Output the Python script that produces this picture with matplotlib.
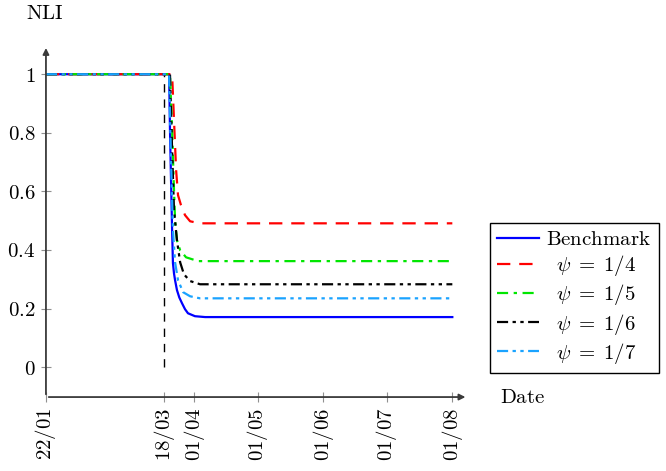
import numpy as np
import matplotlib.pyplot as plt

plt.rcParams['mathtext.fontset'] = 'cm'
plt.rcParams['font.family'] = 'DejaVu Serif'

# days since 22/01 and NLI values
bench_day = [0, 58.2, 58.6, 59.1, 59.6, 60.0, 60.5, 61.0, 61.9, 63.0, 64.3, 65.7, 67.1, 70.4, 75.2, 192]
bench_nli = [1.0, 1.0, 0.809, 0.638, 0.468, 0.355, 0.32, 0.297, 0.263, 0.238, 0.218, 0.198, 0.184, 0.174, 0.171, 0.171]

psi4_day = [0, 59.6, 60.5, 61.5, 62.4, 63.8, 65.7, 68.1, 72.8, 192]
psi4_nli = [1.0, 1.0, 0.843, 0.672, 0.587, 0.553, 0.519, 0.498, 0.491, 0.491]

psi5_day = [0, 58.6, 59.6, 60.5, 61.0, 61.9, 63.4, 66.2, 71.9, 192]
psi5_nli = [1.0, 1.0, 0.809, 0.604, 0.502, 0.433, 0.399, 0.375, 0.362, 0.362]

psi6_day = [0, 58.6, 59.6, 60.5, 61.9, 63.4, 65.2, 68.1, 72.8, 192]
psi6_nli = [1.0, 1.0, 0.741, 0.536, 0.433, 0.358, 0.317, 0.294, 0.283, 0.283]

psi7_day = [0, 58.2, 59.1, 60.0, 61.0, 62.4, 64.8, 68.1, 72.8, 192]
psi7_nli = [1.0, 1.0, 0.706, 0.468, 0.358, 0.297, 0.256, 0.242, 0.235, 0.235]

lockdown_day = 56

tick_days = [0, 56, 70, 100, 131, 161, 192]
tick_labels = ['22/01', '18/03', '01/04', '01/05', '01/06', '01/07', '01/08']

fig = plt.figure(figsize=(6.66, 4.71), dpi=100)
ax = fig.add_axes([0.069, 0.157, 0.634, 0.747])

ax.plot([lockdown_day, lockdown_day], [0, 1], color='black', lw=1.0, dashes=(6, 5))
ax.plot(bench_day, bench_nli, color='#0000ff', lw=1.6, label=r'$\mathrm{Benchmark}$')
ax.plot(psi4_day, psi4_nli, color='#ff0000', lw=1.6, dashes=(6, 4), label=r'$\;\;\psi\;=\;1/4$')
ax.plot(psi5_day, psi5_nli, color='#00e600', lw=1.6, dashes=(5, 2.5, 1.5, 2.5), label=r'$\;\;\psi\;=\;1/5$')
ax.plot(psi6_day, psi6_nli, color='black', lw=1.6, dashes=(5, 2, 1.5, 2, 1.5, 2), label=r'$\;\;\psi\;=\;1/6$')
ax.plot(psi7_day, psi7_nli, color='#1aa3ff', lw=1.6, dashes=(5, 2, 1.5, 2, 1.5, 2), label=r'$\;\;\psi\;=\;1/7$')

ax.set_xlim(0, 199.5)
ax.set_ylim(-0.102, 1.099)

for s in ['top', 'right', 'left', 'bottom']:
    ax.spines[s].set_visible(False)
ax.annotate('', xy=(1, 0), xytext=(0, 0), xycoords='axes fraction',
            arrowprops=dict(arrowstyle='-|>', color='#3a3a3a', lw=1.3, mutation_scale=9))
ax.annotate('', xy=(0, 1), xytext=(0, 0), xycoords='axes fraction',
            arrowprops=dict(arrowstyle='-|>', color='#3a3a3a', lw=1.3, mutation_scale=9))

ax.set_xticks(tick_days)
ax.set_xticklabels(['$' + t + '$' for t in tick_labels], rotation=90, fontsize=15)
yt = [0, 0.2, 0.4, 0.6, 0.8, 1]
ax.set_yticks(yt)
ax.set_yticklabels(['$0$', '$0.2$', '$0.4$', '$0.6$', '$0.8$', '$1$'], fontsize=15)
ax.tick_params(direction='inout', length=7, width=0.8, color='#909090', pad=4)

fig.text(0.068, 0.972, r'$\mathrm{NLI}$', fontsize=15, ha='center', va='center')
fig.text(0.750, 0.155, r'$\mathrm{Date}$', fontsize=15, ha='left', va='center')

leg = ax.legend(loc='upper left', bbox_to_anchor=(0.736, 0.527), bbox_transform=fig.transFigure,
                borderaxespad=0, fontsize=15, handlelength=2.0, labelspacing=0.2,
                handletextpad=0.35, borderpad=0.35,
                fancybox=False, framealpha=1, edgecolor='black')
leg.get_frame().set_linewidth(1.0)

fig.savefig('out.png', dpi=100)
